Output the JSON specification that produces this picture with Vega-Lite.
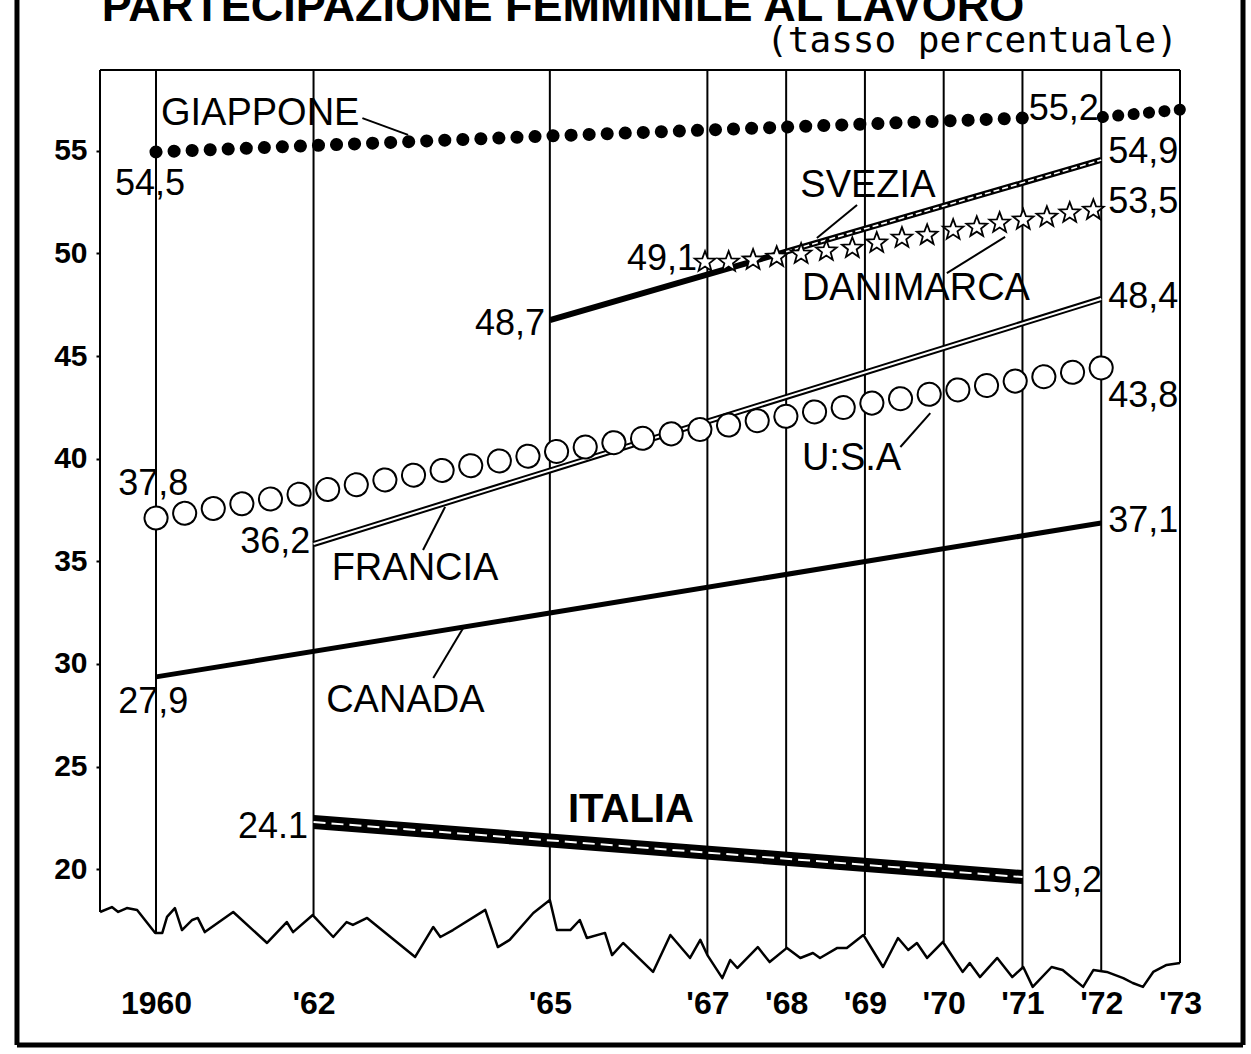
{
  "$schema": "https://vega.github.io/schema/vega-lite/v6.json",
  "width": 1080,
  "height": 915,
  "autosize": {"type": "none"},
  "padding": {"left": 100, "top": 70, "right": 71, "bottom": 69},
  "background": "white",
  "config": {"view": {"stroke": null}, "font": "Liberation Sans"},
  "datasets": {
    "border": [
      {"year": 1958.235, "value": 62.83, "year2": 1958.235, "value2": 11.44},
      {"year": 1958.235, "value": 11.44, "year2": 1973.8, "value2": 11.44},
      {"year": 1973.8, "value": 62.83, "year2": 1973.8, "value2": 11.44}
    ],
    "frame": [
      {"year": 1959.289, "value": 58.932, "year2": 1973, "value2": 58.932},
      {"year": 1959.289, "value": 58.932, "year2": 1959.289, "value2": 17.92},
      {"year": 1960, "value": 58.932, "year2": 1960, "value2": 16.9},
      {"year": 1962, "value": 58.932, "year2": 1962, "value2": 17.77},
      {"year": 1965, "value": 58.932, "year2": 1965, "value2": 18.5},
      {"year": 1967, "value": 58.932, "year2": 1967, "value2": 15.82},
      {"year": 1968, "value": 58.932, "year2": 1968, "value2": 16.17},
      {"year": 1969, "value": 58.932, "year2": 1969, "value2": 16.8},
      {"year": 1970, "value": 58.932, "year2": 1970, "value2": 16.46},
      {"year": 1971, "value": 58.932, "year2": 1971, "value2": 15.24},
      {"year": 1972, "value": 58.932, "year2": 1972, "value2": 15.09},
      {"year": 1973, "value": 58.932, "year2": 1973, "value2": 15.43}
    ],
    "wave": [
      {"year": 1959.29, "value": 17.92}, {"year": 1959.44, "value": 18.16}, {"year": 1959.52, "value": 17.92},
      {"year": 1959.63, "value": 18.11}, {"year": 1959.76, "value": 18.02}, {"year": 1959.99, "value": 16.9},
      {"year": 1960.08, "value": 16.9}, {"year": 1960.14, "value": 17.68}, {"year": 1960.24, "value": 18.11},
      {"year": 1960.33, "value": 17.04}, {"year": 1960.46, "value": 17.53}, {"year": 1960.53, "value": 17.63},
      {"year": 1960.62, "value": 16.94}, {"year": 1960.98, "value": 17.92}, {"year": 1961.41, "value": 16.41},
      {"year": 1961.66, "value": 17.43}, {"year": 1961.74, "value": 16.94}, {"year": 1961.99, "value": 17.77},
      {"year": 1962.25, "value": 16.7}, {"year": 1962.42, "value": 17.43}, {"year": 1962.5, "value": 17.29},
      {"year": 1962.68, "value": 17.63}, {"year": 1963.29, "value": 15.73}, {"year": 1963.52, "value": 17.19},
      {"year": 1963.61, "value": 16.7}, {"year": 1963.77, "value": 17.04}, {"year": 1964.18, "value": 18.02},
      {"year": 1964.34, "value": 16.21}, {"year": 1964.49, "value": 16.56}, {"year": 1964.79, "value": 17.87},
      {"year": 1965.0, "value": 18.5}, {"year": 1965.09, "value": 17.04}, {"year": 1965.26, "value": 17.04},
      {"year": 1965.38, "value": 17.53}, {"year": 1965.47, "value": 16.65}, {"year": 1965.7, "value": 16.9},
      {"year": 1965.79, "value": 15.82}, {"year": 1965.93, "value": 16.41}, {"year": 1966.31, "value": 15.0},
      {"year": 1966.53, "value": 16.8}, {"year": 1966.78, "value": 15.68}, {"year": 1966.91, "value": 16.56},
      {"year": 1967.0, "value": 15.82}, {"year": 1967.19, "value": 14.7}, {"year": 1967.29, "value": 15.58},
      {"year": 1967.38, "value": 15.19}, {"year": 1967.64, "value": 16.21}, {"year": 1967.79, "value": 15.48},
      {"year": 1968.01, "value": 16.17}, {"year": 1968.18, "value": 15.68}, {"year": 1968.34, "value": 15.92},
      {"year": 1968.43, "value": 15.68}, {"year": 1968.65, "value": 16.17}, {"year": 1968.77, "value": 16.17},
      {"year": 1968.98, "value": 16.8}, {"year": 1969.23, "value": 15.24}, {"year": 1969.42, "value": 16.65},
      {"year": 1969.55, "value": 16.07}, {"year": 1969.66, "value": 16.41}, {"year": 1969.79, "value": 15.68},
      {"year": 1969.99, "value": 16.46}, {"year": 1970.24, "value": 15.0}, {"year": 1970.33, "value": 15.43},
      {"year": 1970.46, "value": 14.75}, {"year": 1970.68, "value": 15.68}, {"year": 1970.87, "value": 14.75},
      {"year": 1971.01, "value": 15.24}, {"year": 1971.13, "value": 14.27}, {"year": 1971.37, "value": 15.24},
      {"year": 1971.51, "value": 15.09}, {"year": 1971.77, "value": 14.27}, {"year": 1971.9, "value": 15.09},
      {"year": 1972.07, "value": 15.0}, {"year": 1972.28, "value": 14.7}, {"year": 1972.4, "value": 14.46},
      {"year": 1972.53, "value": 14.27}, {"year": 1972.66, "value": 15.0}, {"year": 1972.83, "value": 15.34},
      {"year": 1973.0, "value": 15.43}
    ],
    "giappone": [
      {"year": 1960, "value": 54.94, "seg": 1},
      {"year": 1965, "value": 55.72, "seg": 1},
      {"year": 1971, "value": 56.59, "seg": 1},
      {"year": 1972.02, "value": 56.64, "seg": 2},
      {"year": 1973, "value": 57.0, "seg": 2}
    ],
    "svezia": [
      {"year": 1965, "value": 46.75},
      {"year": 1968, "value": 50.08},
      {"year": 1972, "value": 54.55}
    ],
    "danimarca": [
      {"year": 1966.97, "value": 49.58}, {"year": 1967.27, "value": 49.58}, {"year": 1967.58, "value": 49.68},
      {"year": 1967.88, "value": 49.82}, {"year": 1968.19, "value": 49.97}, {"year": 1968.51, "value": 50.12},
      {"year": 1968.84, "value": 50.26}, {"year": 1969.15, "value": 50.51}, {"year": 1969.47, "value": 50.75},
      {"year": 1969.79, "value": 50.89}, {"year": 1970.12, "value": 51.14}, {"year": 1970.42, "value": 51.28},
      {"year": 1970.71, "value": 51.48}, {"year": 1971.01, "value": 51.63}, {"year": 1971.31, "value": 51.77},
      {"year": 1971.6, "value": 51.97}, {"year": 1971.9, "value": 52.11}
    ],
    "usa": [
      {"year": 1960, "value": 37.11},
      {"year": 1965, "value": 40.3},
      {"year": 1972, "value": 44.42}
    ],
    "francia": [
      {"year": 1962, "value": 35.84},
      {"year": 1972, "value": 47.78}
    ],
    "canada": [
      {"year": 1960, "value": 29.37},
      {"year": 1965, "value": 32.48},
      {"year": 1972, "value": 36.87}
    ],
    "italia": [
      {"year": 1962, "value": 22.3},
      {"year": 1971, "value": 19.62}
    ],
    "leaders": [
      {"year": 1962.62, "value": 56.59, "year2": 1963.2, "value2": 55.77},
      {"year": 1968.9, "value": 52.36, "year2": 1968.39, "value2": 50.75},
      {"year": 1970.04, "value": 49.04, "year2": 1970.78, "value2": 50.8},
      {"year": 1969.45, "value": 40.57, "year2": 1969.83, "value2": 42.22},
      {"year": 1963.39, "value": 35.55, "year2": 1963.67, "value2": 37.65},
      {"year": 1963.52, "value": 29.32, "year2": 1963.9, "value2": 31.75}
    ],
    "names": [
      {"year": 1960.063, "value": 56.25, "label": "GIAPPONE"},
      {"year": 1968.18, "value": 52.75, "label": "SVEZIA"},
      {"year": 1968.2, "value": 47.73, "label": "DANIMARCA"},
      {"year": 1968.2, "value": 39.45, "label": "U:S.A"},
      {"year": 1962.23, "value": 34.09, "label": "FRANCIA"},
      {"year": 1962.16, "value": 27.66, "label": "CANADA"},
      {"year": 1965.23, "value": 22.3, "label": "ITALIA"}
    ],
    "nums": [
      {"year": 1959.48, "value": 52.84, "label": "54,5"},
      {"year": 1971.08, "value": 56.5, "label": "55,2"},
      {"year": 1972.09, "value": 54.4, "label": "54,9"},
      {"year": 1972.09, "value": 51.97, "label": "53,5"},
      {"year": 1965.98, "value": 49.19, "label": "49,1"},
      {"year": 1964.05, "value": 46.02, "label": "48,7"},
      {"year": 1972.09, "value": 47.34, "label": "48,4"},
      {"year": 1972.09, "value": 42.52, "label": "43,8"},
      {"year": 1959.52, "value": 38.23, "label": "37,8"},
      {"year": 1961.07, "value": 35.41, "label": "36,2"},
      {"year": 1972.09, "value": 36.43, "label": "37,1"},
      {"year": 1959.52, "value": 27.61, "label": "27,9"},
      {"year": 1961.04, "value": 21.52, "label": "24.1"},
      {"year": 1971.12, "value": 18.89, "label": "19,2"}
    ],
    "title": [
      {"year": 1959.31, "value": 61.32, "label": "PARTECIPAZIONE FEMMINILE AL LAVORO"}
    ],
    "subtitle": [
      {"year": 1972.974, "value": 59.81, "label": "(tasso percentuale)"}
    ]
  },
  "encoding": {
    "x": {
      "field": "year",
      "type": "quantitative",
      "scale": {"domain": [1959.289, 1973], "nice": false, "zero": false},
      "axis": {
        "title": null,
        "values": [1960, 1962, 1965, 1967, 1968, 1969, 1970, 1971, 1972, 1973],
        "labelExpr": "datum.value == 1960 ? '1960' : \"'\" + substring(toString(datum.value), 2, 4)",
        "labelFont": "Liberation Sans",
        "labelFontWeight": "bold",
        "labelFontSize": 32,
        "labelColor": "black",
        "labelPadding": 3,
        "labelFlush": false,
        "labelOverlap": false,
        "ticks": false,
        "domain": false,
        "grid": false
      }
    },
    "y": {
      "field": "value",
      "type": "quantitative",
      "scale": {"domain": [14.363, 58.932], "nice": false, "zero": false},
      "axis": {
        "title": null,
        "values": [20, 25, 30, 35, 40, 45, 50, 55],
        "labelFont": "Liberation Sans",
        "labelFontWeight": "bold",
        "labelFontSize": 30,
        "labelColor": "black",
        "labelPadding": 9,
        "ticks": true,
        "tickSize": 4,
        "tickWidth": 2,
        "tickColor": "black",
        "domain": false,
        "grid": false
      }
    }
  },
  "layer": [
    {"data": {"name": "border"}, "mark": {"type": "rule", "color": "black", "strokeWidth": 5}, "encoding": {"x2": {"field": "year2"}, "y2": {"field": "value2"}}},
    {"data": {"name": "frame"}, "mark": {"type": "rule", "color": "black", "strokeWidth": 2}, "encoding": {"x2": {"field": "year2"}, "y2": {"field": "value2"}}},
    {"data": {"name": "wave"}, "mark": {"type": "line", "color": "black", "strokeWidth": 2.5, "strokeJoin": "round"}, "encoding": {}},
    {"data": {"name": "canada"}, "mark": {"type": "line", "color": "black", "strokeWidth": 5}, "encoding": {}},
    {"data": {"name": "italia"}, "mark": {"type": "line", "color": "black", "strokeWidth": 14}, "encoding": {}},
    {"data": {"name": "italia"}, "mark": {"type": "line", "color": "white", "strokeWidth": 2, "strokeDash": [12, 6]}, "encoding": {}},
    {"data": {"name": "francia"}, "mark": {"type": "line", "color": "black", "strokeWidth": 6}, "encoding": {}},
    {"data": {"name": "francia"}, "mark": {"type": "line", "color": "white", "strokeWidth": 2}, "encoding": {}},
    {"data": {"name": "usa"}, "mark": {"type": "line", "color": "black", "strokeWidth": 25, "strokeCap": "round", "strokeDash": [0.1, 28.9]}, "encoding": {}},
    {"data": {"name": "usa"}, "mark": {"type": "line", "color": "white", "strokeWidth": 21, "strokeCap": "round", "strokeDash": [0.1, 28.9]}, "encoding": {}},
    {"data": {"name": "svezia"}, "mark": {"type": "line", "color": "black", "strokeWidth": 6}, "encoding": {}},
    {"data": {"name": "svezia"}, "transform": [{"filter": "datum.year >= 1968"}], "mark": {"type": "line", "color": "white", "strokeWidth": 1.6, "strokeDash": [6, 3]}, "encoding": {}},
    {"data": {"name": "danimarca"}, "mark": {"type": "point", "shape": "M0,-1L0.247,-0.34L0.951,-0.309L0.399,0.13L0.588,0.809L0,0.42L-0.588,0.809L-0.399,0.13L-0.951,-0.309L-0.247,-0.34Z", "filled": true, "fill": "white", "stroke": "black", "strokeWidth": 1.8, "size": 470, "opacity": 1}, "encoding": {}},
    {"data": {"name": "giappone"}, "transform": [{"filter": "datum.seg == 1"}], "mark": {"type": "line", "color": "black", "strokeWidth": 13, "strokeCap": "round", "strokeDash": [0.1, 17.96]}, "encoding": {}},
    {"data": {"name": "giappone"}, "transform": [{"filter": "datum.seg == 2"}], "mark": {"type": "line", "color": "black", "strokeWidth": 12, "strokeCap": "round", "strokeDash": [0.1, 15.36]}, "encoding": {}},
    {"data": {"name": "leaders"}, "mark": {"type": "rule", "color": "black", "strokeWidth": 2}, "encoding": {"x2": {"field": "year2"}, "y2": {"field": "value2"}}},
    {"data": {"name": "names"}, "transform": [{"filter": "datum.label != 'ITALIA'"}], "mark": {"type": "text", "align": "left", "baseline": "alphabetic", "font": "Liberation Sans", "fontSize": 38, "color": "black"}, "encoding": {"text": {"field": "label"}}},
    {"data": {"name": "names"}, "transform": [{"filter": "datum.label == 'ITALIA'"}], "mark": {"type": "text", "align": "left", "baseline": "alphabetic", "font": "Liberation Sans", "fontWeight": "bold", "fontSize": 40, "color": "black"}, "encoding": {"text": {"field": "label"}}},
    {"data": {"name": "nums"}, "mark": {"type": "text", "align": "left", "baseline": "alphabetic", "font": "Liberation Sans", "fontSize": 36, "color": "black"}, "encoding": {"text": {"field": "label"}}},
    {"data": {"name": "title"}, "mark": {"type": "text", "align": "left", "baseline": "alphabetic", "font": "Liberation Sans", "fontWeight": "bold", "fontSize": 45, "color": "black"}, "encoding": {"text": {"field": "label"}}},
    {"data": {"name": "subtitle"}, "mark": {"type": "text", "align": "right", "baseline": "alphabetic", "font": "DejaVu Sans Mono", "fontSize": 36, "color": "black"}, "encoding": {"text": {"field": "label"}}}
  ]
}
